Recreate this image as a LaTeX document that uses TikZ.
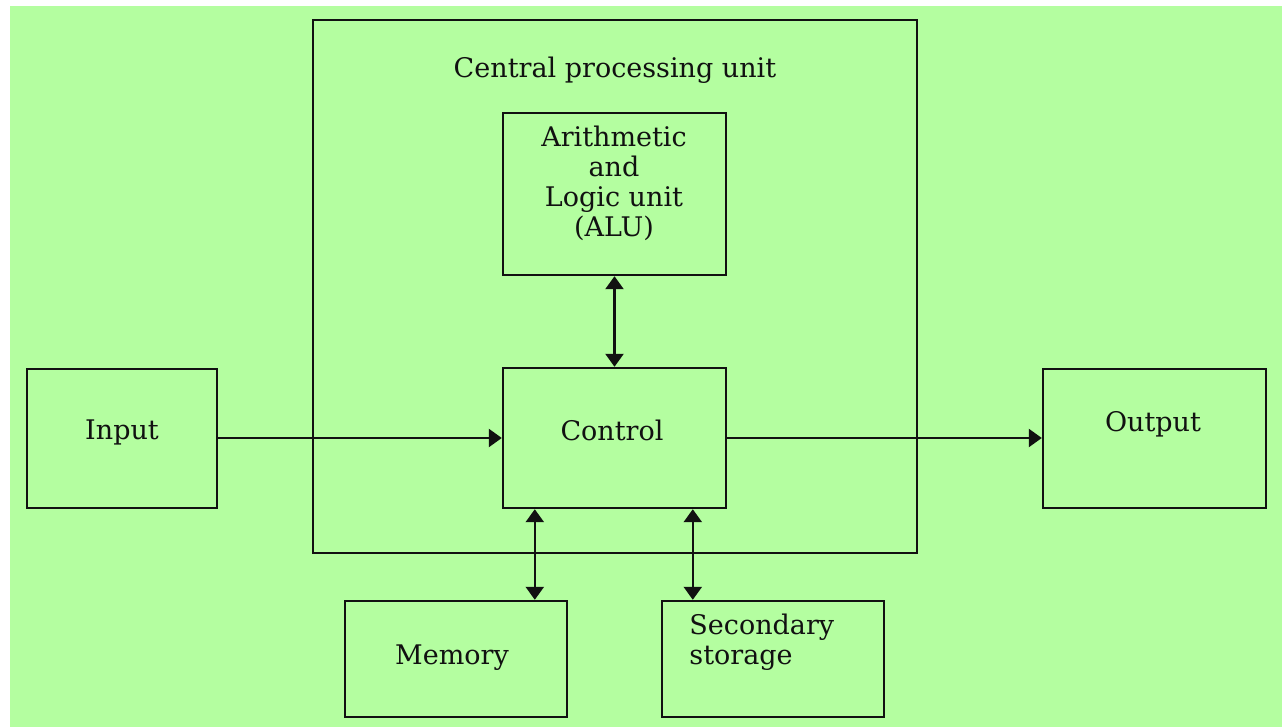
\documentclass[tikz,border=0pt]{standalone}
\usepackage{fontspec}
\setmainfont{DejaVu Serif}
\usetikzlibrary{arrows.meta, positioning, calc}
\definecolor{bgcol}{HTML}{B4FEA0}
\definecolor{inkcol}{HTML}{111111}

\begin{document}
\begin{tikzpicture}[
    x=0.5pt, y=-0.5pt,
    every node/.style={font=\fontsize{13.5}{15}\selectfont, text=inkcol},
    blk/.style={rectangle, draw=inkcol, line width=1.2pt, inner sep=0pt},
    txt/.style={align=center, inner sep=0pt},
    link/.style={inkcol, line width=1.2pt, -{Triangle[length=6.5pt, width=9pt]}},
    both/.style={link, {Triangle[length=6.5pt, width=9pt]}-{Triangle[length=6.5pt, width=9pt]}},
]

% ============================================================ frame
\useasboundingbox (0, 0) rectangle (1282, 727);
\fill[white] (0, 0) rectangle (1282, 727);
\fill[bgcol] (10, 6) rectangle (1282, 727);

% ============================================================ the processor
\node[blk, minimum width=302pt, minimum height=266.5pt] (cpu) at (615, 286.5) {};
\node[txt] (cputxt) at (615, 70) {Central processing unit};

\node[blk, minimum width=111.5pt, minimum height=81pt] (alu) at (614.5, 194) {};
\node[txt] (alutxt) at (614, 183) {Arithmetic\\ and\\ Logic unit\\ (ALU)};

\node[blk, minimum width=111.5pt, minimum height=70pt] (ctrl) at (614.5, 438) {};
\node[txt] (ctrltxt) at (612, 430) {Control};

% ============================================================ outside
\node[blk, minimum width=95pt, minimum height=69.5pt] (inp) at (122, 438.5) {};
\node[txt] (inptxt) at (122, 432) {Input};

\node[blk, minimum width=111.5pt, minimum height=69.5pt] (outp) at (1154.5, 438.5) {};
\node[txt] (outptxt) at (1153, 424) {Output};

\node[blk, minimum width=111pt, minimum height=58pt] (mem) at (456, 659) {};
\node[txt] (memtxt) at (452, 658) {Memory};

\node[blk, minimum width=111pt, minimum height=58pt] (sec) at (773, 659) {};
\node[txt, align=left, anchor=west] (sectxt) at (689, 642) {Secondary\\ storage};

% ============================================================ connectors
\draw[both] (alu.south) -- (ctrl.north);
\draw[link] (inp.east |- ctrl.west) -- (ctrl.west);
\draw[link] (ctrl.east) -- (outp.west |- ctrl.east);
\draw[both] ([xshift=16.5pt]ctrl.south west) -- ([xshift=16.5pt]ctrl.south west |- mem.north);
\draw[both] ([xshift=95.5pt]ctrl.south west) -- ([xshift=95.5pt]ctrl.south west |- sec.north);

\end{tikzpicture}
\end{document}
